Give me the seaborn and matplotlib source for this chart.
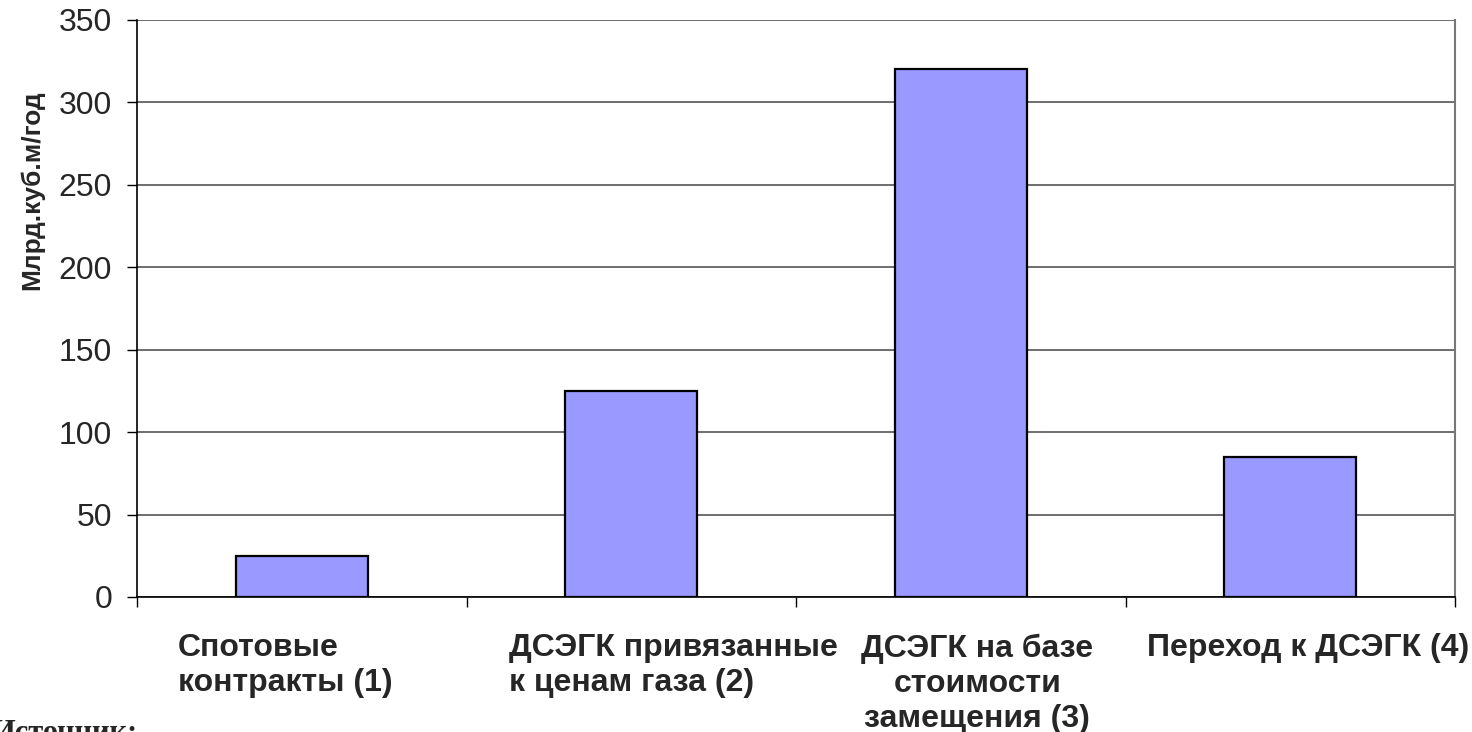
import matplotlib
matplotlib.use("Agg")
import matplotlib.pyplot as plt
import seaborn as sns
import pandas as pd
import numpy as np

categories = ["Спотовые\nконтракты (1)", "ДСЭГК привязанные\nк ценам газа (2)",
              "ДСЭГК на базе\nстоимости\nзамещения (3)", "Переход к ДСЭГК (4)"]
values = [25, 125, 320, 85]
yticks = [0, 50, 100, 150, 200, 250, 300, 350]
ylabel = "Млрд.куб.м/год"
source = "Источник:"

sns.set_theme(style="white")
plt.rcParams['font.family'] = ['Liberation Sans', 'DejaVu Sans']

fig = plt.figure(figsize=(14.72, 7.32), dpi=100)
ax = fig.add_axes([137/1472, 1 - 597/732, (1455-137)/1472, (597-20)/732])

df = pd.DataFrame({"cat": categories, "val": values})
sns.barplot(data=df, x="cat", y="val", ax=ax, width=0.4, color="#9999FF",
            saturation=1, edgecolor="black", linewidth=1.6, zorder=3)

ax.set_xlim(-0.5, 3.5)
ax.set_ylim(0, 350)
ax.set_yticks(yticks)
ax.set_yticklabels([str(t) for t in yticks], fontsize=23)
ax.yaxis.grid(True, color="#555555", linewidth=1.2, zorder=0)
ax.set_axisbelow(True)

ax.set_xticks([])
ax.set_xticks(np.arange(-0.5, 4.0, 1.0), minor=True)
ax.tick_params(axis="x", which="minor", direction="out", length=7, width=1, color="black", bottom=True)
ax.tick_params(axis="y", which="major", direction="out", length=7, width=1, color="black", left=True, pad=11)
ax.set_xlabel("")
ax.set_ylabel(ylabel, fontsize=19, fontweight="bold")
ax.yaxis.set_label_coords(-0.070, 0.705)

for s in ["left", "bottom"]:
    ax.spines[s].set_color("black")
    ax.spines[s].set_linewidth(1.2)
ax.spines["right"].set_color("#777777")
ax.spines["right"].set_linewidth(1.5)
ax.spines["top"].set_visible(False)

# label anchor offsets (category units) and alignment
offsets = [-0.377, -0.37, 0.05, -0.436]
aligns = ["left", "left", "center", "left"]
for i, (lab, off, ha) in enumerate(zip(categories, offsets, aligns)):
    ax.text(i + off, -0.063, lab, transform=ax.get_xaxis_transform(),
            ha=ha, va="top", multialignment=ha, fontsize=23,
            fontweight="bold", linespacing=1.22)

fig.text(-0.006, 1 - 719/732, source, ha="left", va="top", fontsize=22,
         fontweight="bold", family=["Liberation Serif", "DejaVu Serif"])

fig.savefig("out.png", dpi=100)
